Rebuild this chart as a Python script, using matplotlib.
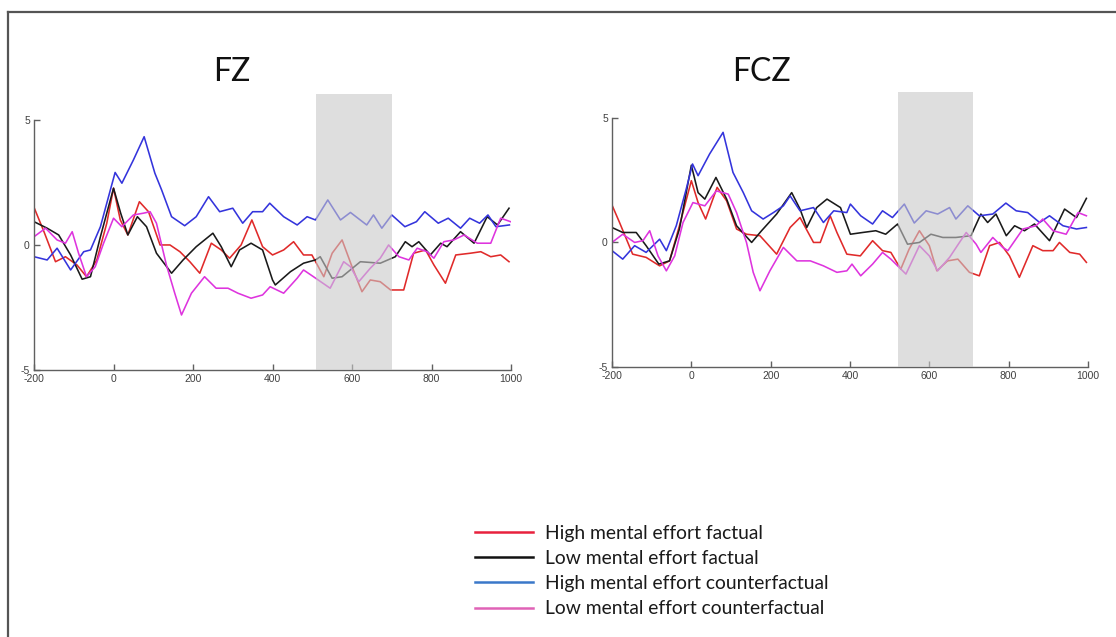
import matplotlib
matplotlib.use("Agg")
import matplotlib.pyplot as plt
from matplotlib.lines import Line2D

plt.rcParams["axes.unicode_minus"] = False

# ---- data (time in ms, amplitude in uV) ----
fz_red_t = [-200, -175, -146, -121, -92, -68, -42, -17, 0, 17, 36, 65, 88, 117, 142, 167, 192, 217, 246, 271, 292, 321, 348, 375, 400, 428, 453, 478, 499, 529, 550, 575, 600, 625, 646, 671, 697, 730, 755, 785, 806, 835, 861, 898, 924, 949, 974, 995]
fz_red_v = [1.5, 0.53, -0.67, -0.47, -0.8, -1.27, -0.6, 0.87, 2.27, 1.0, 0.4, 1.73, 1.33, 0.0, 0.0, -0.27, -0.67, -1.13, 0.07, -0.2, -0.53, 0.0, 1.0, -0.07, -0.4, -0.2, 0.13, -0.4, -0.4, -1.27, -0.33, 0.2, -0.87, -1.87, -1.4, -1.47, -1.8, -1.8, -0.33, -0.2, -0.8, -1.53, -0.4, -0.33, -0.27, -0.47, -0.4, -0.67]

fz_black_t = [-200, -167, -138, -108, -79, -58, -33, 0, 18, 36, 60, 83, 108, 146, 175, 208, 250, 271, 296, 317, 346, 375, 400, 407, 445, 478, 508, 520, 550, 575, 621, 671, 709, 734, 751, 768, 797, 823, 839, 873, 907, 940, 966, 995]
fz_black_v = [0.93, 0.67, 0.4, -0.4, -1.37, -1.27, 0.33, 2.27, 1.27, 0.4, 1.13, 0.73, -0.33, -1.13, -0.6, -0.07, 0.47, -0.07, -0.87, -0.2, 0.07, -0.2, -1.4, -1.6, -1.07, -0.73, -0.6, -0.47, -1.33, -1.27, -0.67, -0.73, -0.47, 0.13, -0.07, 0.13, -0.4, 0.07, -0.07, 0.53, 0.07, 1.13, 0.8, 1.47]

fz_blue_t = [-200, -167, -142, -108, -75, -58, -33, -8, 4, 21, 50, 77, 104, 121, 146, 179, 208, 239, 267, 300, 325, 350, 375, 393, 428, 462, 487, 508, 539, 571, 596, 637, 654, 675, 700, 733, 762, 783, 817, 842, 873, 896, 921, 942, 962, 996]
fz_blue_v = [-0.47, -0.6, -0.13, -1.0, -0.27, -0.2, 0.73, 2.2, 2.9, 2.47, 3.4, 4.33, 2.87, 2.2, 1.13, 0.77, 1.13, 1.93, 1.33, 1.47, 0.87, 1.33, 1.33, 1.67, 1.13, 0.8, 1.13, 1.0, 1.8, 1.0, 1.3, 0.8, 1.2, 0.67, 1.2, 0.73, 0.93, 1.33, 0.87, 1.07, 0.67, 1.07, 0.87, 1.2, 0.73, 0.8]

fz_pink_t = [-200, -171, -142, -121, -104, -88, -68, -46, -25, 0, 21, 50, 75, 92, 108, 133, 154, 171, 196, 229, 258, 288, 313, 346, 375, 394, 428, 462, 478, 503, 545, 579, 596, 617, 646, 671, 692, 718, 743, 764, 789, 806, 831, 856, 882, 915, 949, 974, 999]
fz_pink_v = [0.33, 0.67, 0.2, 0.07, 0.53, -0.33, -1.27, -0.87, 0.07, 1.07, 0.73, 1.2, 1.27, 1.33, 0.87, -0.8, -1.93, -2.8, -1.93, -1.27, -1.73, -1.73, -1.93, -2.13, -2.0, -1.67, -1.93, -1.33, -1.0, -1.27, -1.73, -0.67, -0.87, -1.47, -0.93, -0.53, 0.0, -0.47, -0.6, -0.13, -0.27, -0.53, 0.13, 0.2, 0.4, 0.07, 0.07, 1.07, 0.93]

fcz_red_t = [-200, -181, -148, -114, -80, -55, -30, 0, 17, 36, 65, 89, 114, 139, 173, 215, 249, 274, 308, 325, 350, 367, 392, 426, 457, 482, 503, 528, 549, 575, 600, 619, 646, 672, 701, 726, 752, 777, 802, 827, 861, 886, 912, 928, 954, 979, 996]
fcz_red_v = [1.5, 0.8, -0.47, -0.6, -0.94, -0.74, 0.67, 2.48, 1.6, 0.94, 2.21, 1.67, 0.54, 0.33, 0.27, -0.47, 0.6, 1.0, 0.0, 0.0, 1.07, 0.4, -0.47, -0.54, 0.07, -0.33, -0.4, -1.07, -0.27, 0.47, -0.13, -1.14, -0.74, -0.67, -1.2, -1.34, -0.13, 0.0, -0.54, -1.4, -0.13, -0.33, -0.33, 0.0, -0.4, -0.47, -0.8]

fcz_black_t = [-200, -173, -139, -114, -82, -55, -30, 0, 17, 34, 62, 89, 114, 152, 177, 215, 253, 274, 291, 316, 342, 376, 401, 432, 465, 490, 520, 545, 575, 604, 634, 667, 705, 730, 747, 768, 794, 815, 840, 865, 903, 941, 971, 996]
fcz_black_v = [0.6, 0.4, 0.4, -0.13, -0.87, -0.74, 0.54, 3.1, 2.0, 1.74, 2.61, 1.74, 0.67, 0.0, 0.47, 1.14, 2.0, 1.34, 0.6, 1.4, 1.74, 1.4, 0.33, 0.4, 0.47, 0.33, 0.74, -0.07, 0.0, 0.33, 0.2, 0.2, 0.27, 1.14, 0.8, 1.14, 0.27, 0.67, 0.47, 0.74, 0.07, 1.34, 1.0, 1.77]

fcz_blue_t = [-200, -173, -143, -114, -80, -63, -38, -13, 3, 17, 46, 80, 105, 131, 152, 181, 207, 232, 249, 274, 308, 333, 359, 392, 401, 427, 457, 482, 507, 537, 562, 592, 621, 651, 667, 697, 726, 760, 793, 819, 848, 878, 903, 937, 971, 996]
fcz_blue_v = [-0.33, -0.67, -0.13, -0.4, 0.13, -0.33, 0.67, 2.14, 3.15, 2.68, 3.55, 4.42, 2.81, 2.0, 1.27, 0.94, 1.2, 1.47, 1.87, 1.27, 1.4, 0.8, 1.27, 1.2, 1.54, 1.07, 0.74, 1.27, 1.0, 1.54, 0.78, 1.27, 1.14, 1.4, 0.94, 1.47, 1.07, 1.14, 1.58, 1.27, 1.2, 0.8, 1.07, 0.67, 0.54, 0.6]

fcz_pink_t = [-200, -173, -143, -122, -105, -84, -63, -42, -21, 4, 34, 63, 93, 114, 139, 156, 173, 198, 232, 266, 300, 333, 367, 392, 405, 427, 457, 482, 503, 541, 575, 600, 621, 651, 676, 693, 718, 730, 760, 785, 798, 836, 869, 886, 912, 945, 975, 996]
fcz_pink_v = [0.0, 0.33, 0.0, 0.07, 0.47, -0.54, -1.14, -0.54, 0.8, 1.6, 1.47, 2.07, 1.94, 1.2, 0.0, -1.2, -1.94, -1.14, -0.2, -0.74, -0.74, -0.94, -1.2, -1.14, -0.87, -1.34, -0.87, -0.4, -0.67, -1.27, -0.13, -0.54, -1.14, -0.6, 0.0, 0.4, -0.07, -0.4, 0.2, -0.2, -0.33, 0.54, 0.67, 0.94, 0.47, 0.33, 1.2, 1.07]

fz_window = [510, 700]
fcz_window = [520, 710]

titles = ["FZ", "FCZ"]
labels = ["High mental effort factual", "Low mental effort factual",
          "High mental effort counterfactual", "Low mental effort counterfactual"]

line_colors = ["#e02a2a", "#1a1a1a", "#3434dc", "#de34de"]
legend_colors = ["#e8213d", "#111111", "#3a78c9", "#e062b6"]

panels = [
    (titles[0], [(fz_red_t, fz_red_v), (fz_black_t, fz_black_v),
                 (fz_blue_t, fz_blue_v), (fz_pink_t, fz_pink_v)], fz_window),
    (titles[1], [(fcz_red_t, fcz_red_v), (fcz_black_t, fcz_black_v),
                 (fcz_blue_t, fcz_blue_v), (fcz_pink_t, fcz_pink_v)], fcz_window),
]

fig = plt.figure(figsize=(11.16, 6.37), dpi=100)
fig.patch.set_facecolor("white")

# frame line along top and left edge of the picture
fig.add_artist(Line2D([0.0072, 0.0072], [0.0, 0.981], transform=fig.transFigure,
                      color="#555555", lw=1.6))
fig.add_artist(Line2D([0.0072, 1.0], [0.981, 0.981], transform=fig.transFigure,
                      color="#555555", lw=1.6))

rects = [[0.0305, 0.4192, 0.4274, 0.3925], [0.5484, 0.4239, 0.4265, 0.391]]
title_x = [0.2079, 0.6819]

for rect, tx, (name, series, win) in zip(rects, title_x, panels):
    ax = fig.add_axes(rect)
    for (t, v), c in zip(series, line_colors):
        ax.plot(t, v, color=c, lw=1.15, zorder=2)
    ax.fill_between(win, -5, 6.05, color="#c8c8c8", alpha=0.6, lw=0,
                    zorder=3, clip_on=False)
    ax.set_xlim(-200, 1000)
    ax.set_ylim(-5, 5)
    ax.set_xticks([-200, 0, 200, 400, 600, 800, 1000])
    ax.set_yticks([-5, 0, 5])
    for s in ["top", "right"]:
        ax.spines[s].set_visible(False)
    for s in ["left", "bottom"]:
        ax.spines[s].set_color("#606060")
        ax.spines[s].set_linewidth(1.0)
    ax.tick_params(direction="in", length=4, width=1.0, color="#606060",
                   labelsize=7.5, labelcolor="#404040", pad=3)
    for lab in ax.get_xticklabels() + ax.get_yticklabels():
        lab.set_family("Liberation Sans")
    ax.set_facecolor("none")
    fig.text(tx, 1 - 81 / 637, name, ha="center", va="baseline",
             fontsize=23, family="Lato", color="#111111")

handles = [Line2D([], [], color=c, lw=1.8) for c in legend_colors]
leg = fig.legend(handles, labels, loc="upper left",
                 bbox_to_anchor=(0.4256, 1 - 525 / 637), frameon=False,
                 prop={"family": "Lato", "size": 13.9}, handlelength=3.0,
                 handletextpad=0.62, labelspacing=0.42, borderpad=0,
                 borderaxespad=0)
for txt in leg.get_texts():
    txt.set_color("#1a1a1a")

fig.savefig("out.png", dpi=100)
